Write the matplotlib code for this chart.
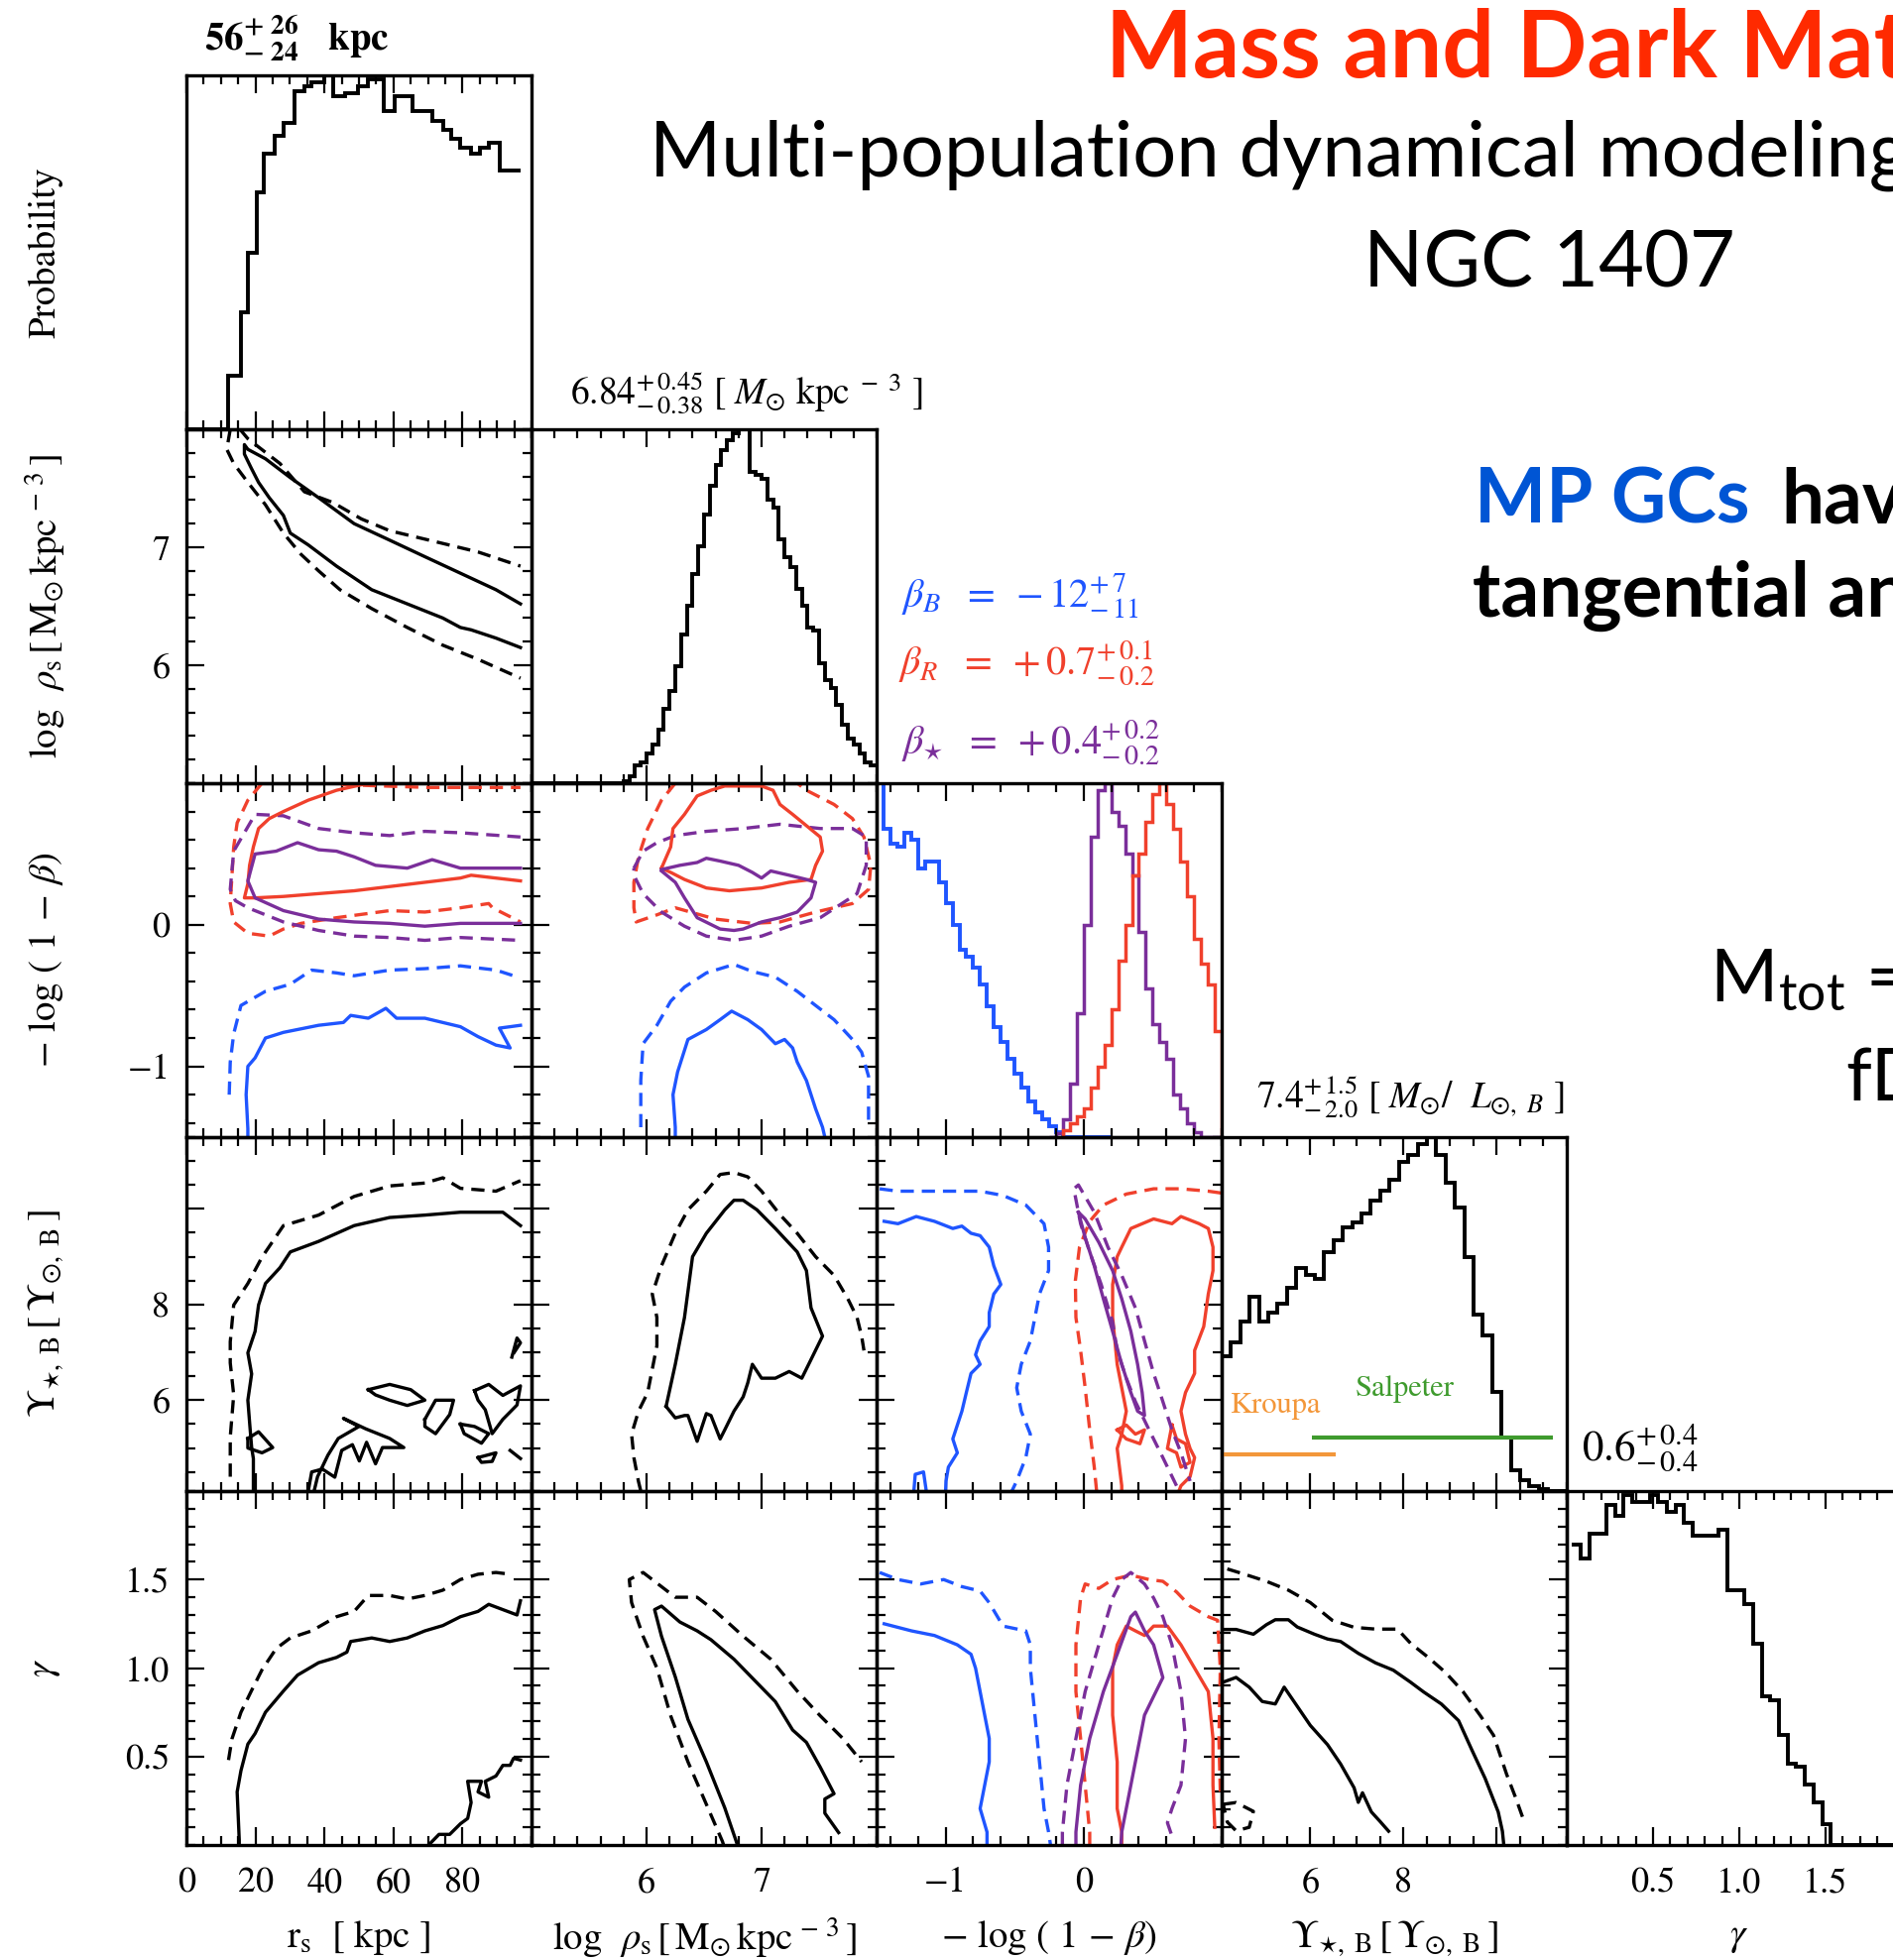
import numpy as np
import matplotlib
matplotlib.use('Agg')
import matplotlib.pyplot as plt
from matplotlib.ticker import MultipleLocator

plt.rcParams['font.family'] = 'STIXGeneral'
plt.rcParams['mathtext.fontset'] = 'stix'

W, H = 1909, 1977          # canvas in pixels
X0, Y0 = 188, 76           # top-left corner of the triangle grid
PW, PH = 348, 357          # one panel

BLUE = '#1f55ff'
RED = '#f0402c'
PURPLE = '#7a2e9a'
DASH = (0, (4, 2.4))
SANS = ['Lato', 'DejaVu Sans']

# parameter axes: limits, labelled ticks, minor step
rs_lim, rs_ticks, rs_tlab, rs_minor = (0, 100), [0, 20, 40, 60, 80], ['0', '20', '40', '60', '80'], 5
rho_lim, rho_ticks, rho_tlab, rho_minor = (5, 8), [6, 7], ['6', '7'], 0.2
beta_lim, beta_ticks, beta_tlab, beta_minor = (-1.5, 1.0), [-1, 0], ['\u22121', '0'], 0.2
ups_lim, ups_ticks, ups_tlab, ups_minor = (4.1, 11.5), [6, 8, 10], ['6', '8', ''], 0.5
gam_lim, gam_ticks, gam_tlab, gam_minor = (0, 2), [0.5, 1.0, 1.5], ['0.5', '1.0', '1.5'], 0.1

# ---------------- marginal posteriors (normalised to peak) ----------------
rs_edges = [0, 12.2, 15.8, 17.8, 20.4, 22.5, 25.5, 28.1, 31.2, 34.2, 36.3, 39.9, 42.4, 46.0,
            49.6, 52.7, 57.3, 60.4, 65.5, 71.2, 74.3, 76.8, 79.4, 82.5, 85.0, 87.6, 90.7, 96.8]
rs_prob = [0, 0.15, 0.33, 0.50, 0.67, 0.78, 0.83, 0.865, 0.955, 0.97, 0.98, 1.0, 0.94, 0.95,
           0.97, 0.99, 0.90, 0.94, 0.90, 0.87, 0.845, 0.82, 0.795, 0.78, 0.795, 0.81, 0.73]

rho_lo, rho_bin = 5.8, 0.05
rho_prob = [0.005, 0.02, 0.05, 0.06, 0.085, 0.11, 0.15, 0.21, 0.26, 0.33, 0.42, 0.50, 0.59, 0.67,
            0.76, 0.84, 0.90, 0.94, 0.97, 0.99, 1.00, 1.00, 0.88, 0.87, 0.86, 0.80, 0.78, 0.69,
            0.64, 0.61, 0.55, 0.50, 0.44, 0.43, 0.34, 0.29, 0.27, 0.22, 0.165, 0.125, 0.11,
            0.085, 0.06, 0.05]

beta_bin = 0.05
betaB_lo = -1.5
betaB_prob = [1.0, 0.87, 0.83, 0.82, 0.86, 0.84, 0.76, 0.78, 0.78, 0.72, 0.66, 0.60, 0.53, 0.51,
              0.48, 0.43, 0.37, 0.31, 0.27, 0.22, 0.18, 0.14, 0.10, 0.07, 0.05, 0.03, 0.015,
              0, 0, 0, 0, 0, 0, 0]
betaS_lo = -0.25
betaS_prob = [0, 0.01, 0.05, 0.15, 0.35, 0.60, 0.85, 0.98, 1.00, 0.92, 0.88, 0.80, 0.74, 0.58,
              0.42, 0.32, 0.27, 0.22, 0.12, 0.08, 0.04, 0.015, 0, 0, 0]
betaR_lo = -0.15
betaR_prob = [0.02, 0.04, 0.06, 0.08, 0.14, 0.20, 0.26, 0.36, 0.50, 0.60, 0.74, 0.80, 0.89, 0.97,
              1.00, 0.94, 0.87, 0.78, 0.68, 0.56, 0.49, 0.43, 0.30]

ups_lo, ups_bin = 4.1, 0.2
ups_prob = [0.38, 0.42, 0.48, 0.55, 0.48, 0.505, 0.53, 0.575, 0.63, 0.61, 0.60, 0.675, 0.71,
            0.745, 0.76, 0.785, 0.82, 0.85, 0.88, 0.93, 0.95, 0.98, 1.00, 0.95, 0.87, 0.80,
            0.66, 0.50, 0.44, 0.28, 0.15, 0.06, 0.03, 0.015, 0.005, 0.0, 0.0]
kroupa_ups, kroupa_level = (4.12, 6.55), 0.104
salpeter_ups, salpeter_level = (6.04, 11.2), 0.151

gam_lo, gam_bin = 0.03, 0.05
gam_prob = [0.85, 0.81, 0.88, 0.88, 0.96, 0.93, 0.99, 0.97, 0.97, 0.99, 0.97, 0.94, 0.96, 0.91,
            0.875, 0.875, 0.875, 0.89, 0.72, 0.72, 0.68, 0.57, 0.42, 0.41, 0.31, 0.23, 0.22,
            0.17, 0.12, 0.06, 0, 0, 0, 0, 0, 0, 0, 0, 0, 0]

# ---------------- 68% (solid) / 95% (dashed) credible contours ----------------
# r_s vs log rho_s
rs_rho_solid = [(96.8, 6.52), (89.7, 6.64), (79.4, 6.78), (69.1, 6.92), (58.9, 7.06), (48.6, 7.20),
                (38.3, 7.42), (30.1, 7.59), (22.9, 7.75), (17.8, 7.83), (16.8, 7.87), (16.8, 7.79),
                (18.8, 7.67), (20.9, 7.55), (24.0, 7.42), (28.1, 7.27), (30.1, 7.12), (35.3, 7.02),
                (43.5, 6.84), (48.6, 6.74), (53.7, 6.64), (64.0, 6.52), (74.3, 6.40), (79.4, 6.32),
                (82.5, 6.30), (89.7, 6.23), (96.8, 6.15)]
rs_rho_dash_hi = [(15.5, 8.0), (17.8, 7.92), (27.1, 7.71), (34.2, 7.47), (42.4, 7.38), (50.7, 7.24),
                  (58.9, 7.14), (73.2, 7.04), (84.5, 6.96), (96.8, 6.84)]
rs_rho_dash_lo = [(12.7, 8.0), (11.7, 7.83), (13.7, 7.71), (17.8, 7.55), (22.9, 7.36), (28.1, 7.12),
                  (33.2, 6.94), (38.3, 6.80), (44.5, 6.64), (53.7, 6.48), (64.0, 6.32), (74.3, 6.17),
                  (84.5, 6.05), (96.8, 5.89)]

# r_s vs -log(1-beta)
rs_beta_red = [(52.7, 1.00), (43.5, 0.95), (35.3, 0.88), (28.1, 0.80), (24.0, 0.75), (20.9, 0.68),
               (19.4, 0.55), (18.3, 0.42), (17.8, 0.29), (16.8, 0.19), (19.9, 0.19), (28.1, 0.20),
               (38.3, 0.22), (48.6, 0.24), (58.9, 0.27), (69.1, 0.30), (79.4, 0.33), (82.5, 0.35),
               (96.8, 0.31)]
rs_beta_red_dash = [(21.9, 1.0), (17.8, 0.88), (14.7, 0.72), (13.7, 0.55), (13.2, 0.35), (12.7, 0.15),
                    (13.7, 0.02), (17.8, -0.06), (24.0, -0.08), (28.1, -0.03), (33.2, 0.01),
                    (43.5, 0.05), (58.9, 0.10), (69.1, 0.09), (79.4, 0.12), (87.6, 0.15),
                    (88.7, 0.12), (96.8, 0.02)]
rs_beta_red_dash_top = [(45.0, 0.99), (70.0, 0.97), (96.8, 0.97)]
rs_beta_purple = [(96.8, 0.40), (79.4, 0.40), (71.2, 0.46), (64.0, 0.40), (54.8, 0.42), (48.6, 0.48),
                  (43.5, 0.52), (38.3, 0.53), (32.2, 0.58), (26.0, 0.52), (19.9, 0.50), (17.8, 0.31),
                  (19.9, 0.19), (28.1, 0.10), (38.3, 0.04), (48.6, 0.02), (58.9, 0.01), (69.1, -0.01),
                  (79.4, 0.01), (96.8, 0.01)]
rs_beta_purple_dash = [(96.8, 0.62), (79.4, 0.65), (69.1, 0.66), (58.9, 0.63), (48.6, 0.65), (38.3, 0.68),
                       (28.1, 0.77), (19.9, 0.78), (13.7, 0.52), (12.7, 0.25), (14.2, 0.17), (17.8, 0.12),
                       (28.1, 0.02), (38.3, -0.04), (48.6, -0.08), (58.9, -0.09), (69.1, -0.11),
                       (79.4, -0.09), (96.8, -0.11)]
rs_beta_blue = [(17.8, -1.5), (17.8, -1.44), (17.3, -1.20), (17.8, -1.0), (19.9, -0.94), (22.9, -0.80),
                (28.1, -0.76), (38.3, -0.71), (45.5, -0.69), (47.6, -0.64), (52.7, -0.66), (57.8, -0.59),
                (60.9, -0.66), (69.1, -0.66), (79.4, -0.72), (84.5, -0.79), (89.7, -0.85), (93.8, -0.87),
                (90.7, -0.73), (93.8, -0.72), (96.8, -0.71)]
rs_beta_blue_dash = [(12.4, -1.2), (12.7, -0.97), (13.7, -0.77), (15.8, -0.57), (22.9, -0.47), (30.1, -0.42),
                     (36.3, -0.32), (43.5, -0.34), (48.6, -0.36), (58.9, -0.32), (69.1, -0.31),
                     (79.4, -0.29), (89.7, -0.32), (94.8, -0.36)]

# r_s vs Upsilon
rs_ups_solid = [(19.4, 4.1), (19.4, 4.78), (18.9, 5.01), (18.4, 5.45), (17.8, 6.00), (18.9, 6.55),
                (17.8, 6.99), (19.9, 7.44), (20.9, 7.99), (22.9, 8.44), (27.1, 8.77), (30.1, 9.10),
                (38.3, 9.32), (48.6, 9.65), (58.9, 9.82), (69.1, 9.87), (79.4, 9.93), (91.7, 9.93),
                (96.8, 9.65)]
rs_ups_dash = [(12.7, 4.4), (12.7, 5.23), (13.7, 6.11), (12.7, 6.78), (12.7, 7.22), (13.7, 7.99),
               (17.8, 8.44), (21.9, 8.99), (28.1, 9.65), (38.3, 9.87), (48.6, 10.26), (58.9, 10.48),
               (69.1, 10.54), (74.3, 10.65), (79.4, 10.43), (89.7, 10.37), (96.8, 10.59)]
rs_ups_islands = [
    [(17.8, 5.2), (20.9, 5.34), (25.0, 5.01), (21.9, 4.9), (17.8, 5.0), (17.8, 5.2)],
    [(35.3, 4.1), (36.3, 4.5), (39.4, 4.56), (43.0, 4.39), (45.0, 4.95), (48.1, 5.07), (50.1, 4.73),
     (52.2, 5.12), (54.8, 4.67), (56.8, 5.01), (63.0, 5.01), (58.9, 5.20), (52.0, 5.40), (45.5, 5.62),
     (50.0, 5.45), (44.0, 5.20), (41.0, 4.85), (38.0, 4.4), (37.0, 4.1)],
    [(52.7, 6.22), (58.9, 6.33), (65.0, 6.22), (69.1, 6.0), (64.0, 5.89), (58.9, 6.0), (54.8, 6.11), (52.7, 6.22)],
    [(69.1, 5.6), (72.2, 6.0), (77.4, 6.0), (76.3, 5.7), (72.2, 5.3), (69.1, 5.45), (69.1, 5.6)],
    [(79.4, 5.5), (83.5, 5.45), (87.6, 5.3), (85.5, 5.1), (80.5, 5.3), (79.4, 5.5)],
    [(83.5, 6.2), (87.6, 6.33), (91.7, 6.1), (96.8, 6.3), (95.8, 5.9), (91.7, 5.6), (88.6, 5.3),
     (86.6, 5.8), (84.5, 6.0), (83.5, 6.2)],
    [(84.5, 4.8), (89.7, 4.9), (88.6, 4.72), (85.5, 4.7), (84.5, 4.8)],
    [(94.3, 6.9), (95.8, 7.3), (96.8, 7.2), (95.0, 7.0)],
    [(93.8, 4.95), (96.8, 4.78)],
]

# r_s vs gamma
rs_gam_solid = [(15.3, 0.0), (15.3, 0.03), (14.7, 0.30), (15.8, 0.42), (17.8, 0.57), (19.9, 0.63),
                (22.9, 0.75), (28.1, 0.87), (32.2, 0.96), (38.3, 1.03), (43.5, 1.06), (46.5, 1.09),
                (47.6, 1.15), (53.7, 1.17), (58.9, 1.15), (64.0, 1.17), (69.1, 1.21), (74.3, 1.24),
                (79.4, 1.29), (84.5, 1.32), (87.6, 1.36), (91.7, 1.33), (95.8, 1.30), (96.8, 1.38)]
rs_gam_dash = [(12.2, 0.48), (13.2, 0.60), (15.8, 0.75), (18.8, 0.87), (21.9, 0.99), (26.0, 1.11),
               (30.1, 1.17), (36.3, 1.21), (43.5, 1.29), (48.6, 1.32), (52.7, 1.41), (58.9, 1.41),
               (64.0, 1.39), (69.1, 1.41), (74.3, 1.44), (79.4, 1.50), (84.5, 1.53), (89.7, 1.54),
               (93.8, 1.53)]
rs_gam_island = [(70.2, 0.0), (73.2, 0.06), (76.3, 0.06), (79.4, 0.12), (81.5, 0.15), (82.5, 0.24),
                 (81.5, 0.36), (85.5, 0.36), (84.5, 0.30), (87.6, 0.27), (86.6, 0.36), (89.7, 0.39),
                 (91.7, 0.45), (93.8, 0.45), (94.8, 0.49), (96.8, 0.48)]

# log rho_s vs -log(1-beta)
rho_beta_red = [(6.13, 0.40), (6.21, 0.55), (6.23, 0.68), (6.33, 0.78), (6.44, 0.91), (6.56, 0.95),
                (6.68, 0.98), (7.00, 0.98), (7.10, 0.95), (7.16, 0.85), (7.27, 0.78), (7.39, 0.70),
                (7.51, 0.62), (7.53, 0.52), (7.47, 0.42), (7.43, 0.32), (7.24, 0.30), (7.00, 0.26),
                (6.72, 0.24), (6.52, 0.26), (6.33, 0.32), (6.21, 0.37), (6.13, 0.40)]
rho_beta_red_dash = [(6.25, 1.0), (6.13, 0.88), (6.01, 0.68), (5.93, 0.48), (5.89, 0.30), (5.89, 0.12),
                     (5.91, 0.02), (6.09, 0.07), (6.25, 0.12), (6.60, 0.04), (6.92, 0.01), (7.16, 0.02),
                     (7.47, 0.09), (7.79, 0.15), (7.93, 0.25), (7.95, 0.42), (7.89, 0.62), (7.79, 0.75),
                     (7.63, 0.85), (7.39, 0.95), (7.31, 1.0)]
rho_beta_purple = [(6.13, 0.39), (6.29, 0.42), (6.44, 0.44), (6.52, 0.47), (6.64, 0.45), (6.80, 0.42),
                   (6.92, 0.37), (7.00, 0.33), (7.08, 0.38), (7.24, 0.35), (7.39, 0.32), (7.47, 0.30),
                   (7.43, 0.19), (7.31, 0.09), (7.16, 0.05), (7.00, 0.02), (6.84, -0.03), (6.76, -0.04),
                   (6.64, -0.03), (6.44, 0.05), (6.33, 0.19), (6.25, 0.30), (6.13, 0.38)]
rho_beta_purple_dash = [(5.89, 0.40), (5.97, 0.52), (6.09, 0.58), (6.25, 0.63), (6.52, 0.66), (6.84, 0.68),
                        (7.16, 0.71), (7.51, 0.68), (7.79, 0.68), (7.91, 0.62), (7.91, 0.42), (7.83, 0.22),
                        (7.51, 0.05), (7.24, -0.01), (7.00, -0.08), (6.76, -0.11), (6.52, -0.08),
                        (6.33, -0.01), (6.13, 0.09), (5.97, 0.22), (5.89, 0.35), (5.89, 0.40)]
rho_beta_blue = [(6.25, -1.5), (6.25, -1.43), (6.23, -1.20), (6.27, -1.04), (6.36, -0.81), (6.52, -0.74),
                 (6.64, -0.67), (6.74, -0.61), (6.88, -0.67), (7.00, -0.74), (7.12, -0.84), (7.20, -0.81),
                 (7.27, -0.87), (7.31, -0.97), (7.39, -1.10), (7.47, -1.30), (7.53, -1.43), (7.55, -1.5)]
rho_beta_blue_dash = [(5.95, -1.43), (5.95, -1.10), (5.97, -0.84), (6.09, -0.71), (6.21, -0.54),
                      (6.33, -0.44), (6.52, -0.34), (6.76, -0.28), (6.92, -0.33), (7.12, -0.37),
                      (7.31, -0.47), (7.47, -0.57), (7.63, -0.67), (7.79, -0.81), (7.87, -0.90),
                      (7.93, -1.07), (7.93, -1.43)]

# log rho_s vs Upsilon
rho_ups_solid = [(6.17, 5.87), (6.25, 6.75), (6.33, 7.73), (6.40, 9.00), (6.52, 9.49), (6.68, 9.98),
                 (6.76, 10.18), (6.84, 10.18), (6.96, 9.98), (7.12, 9.59), (7.31, 9.10), (7.39, 8.71),
                 (7.43, 7.93), (7.53, 7.34), (7.43, 6.85), (7.35, 6.46), (7.24, 6.60), (7.12, 6.46),
                 (7.00, 6.46), (6.92, 6.75), (6.88, 6.36), (6.84, 6.07), (6.76, 5.77), (6.68, 5.38),
                 (6.64, 5.19), (6.56, 5.68), (6.52, 5.72), (6.44, 5.14), (6.36, 5.68), (6.33, 5.68),
                 (6.25, 5.63), (6.17, 5.87)]
rho_ups_dash = [(5.95, 4.1), (5.93, 4.30), (5.89, 4.80), (5.87, 5.29), (5.93, 5.77), (6.01, 6.16),
                (6.09, 7.14), (6.09, 7.73), (6.05, 8.22), (6.13, 8.81), (6.25, 9.49), (6.36, 9.98),
                (6.52, 10.37), (6.64, 10.72), (6.76, 10.76), (6.88, 10.67), (7.00, 10.37), (7.16, 9.88),
                (7.31, 9.49), (7.47, 9.00), (7.63, 8.61), (7.75, 8.12), (7.83, 7.73), (7.87, 7.34),
                (7.89, 7.04)]

# log rho_s vs gamma
rho_gam_solid = [(6.79, 0.0), (6.78, 0.02), (6.68, 0.21), (6.52, 0.47), (6.36, 0.71), (6.25, 0.95),
                 (6.13, 1.18), (6.07, 1.33), (6.13, 1.35), (6.29, 1.26), (6.44, 1.21), (6.56, 1.16),
                 (6.76, 1.05), (7.00, 0.89), (7.12, 0.81), (7.27, 0.65), (7.39, 0.58), (7.51, 0.44),
                 (7.59, 0.34), (7.63, 0.29), (7.55, 0.26), (7.55, 0.18), (7.67, 0.07)]
rho_gam_dash = [(6.67, 0.0), (6.66, 0.02), (6.52, 0.23), (6.36, 0.47), (6.21, 0.73), (6.09, 1.0),
                (5.97, 1.18), (5.87, 1.37), (5.85, 1.50), (5.97, 1.54), (6.13, 1.46), (6.25, 1.40),
                (6.44, 1.40), (6.60, 1.32), (6.84, 1.18), (7.08, 1.05), (7.31, 0.87), (7.51, 0.73),
                (7.71, 0.60), (7.87, 0.47)]

# -log(1-beta) vs Upsilon
beta_ups_blue = [(-1.445, 9.74), (-1.345, 9.69), (-1.213, 9.84), (-1.081, 9.74), (-0.948, 9.59),
                 (-0.882, 9.64), (-0.816, 9.49), (-0.75, 9.44), (-0.684, 9.2), (-0.651, 8.81),
                 (-0.60, 8.42), (-0.651, 8.22), (-0.684, 7.83), (-0.684, 7.54), (-0.75, 7.24),
                 (-0.783, 6.95), (-0.75, 6.75), (-0.816, 6.56), (-0.849, 6.17), (-0.882, 5.77),
                 (-0.915, 5.48), (-0.948, 5.19), (-0.915, 4.90), (-0.98, 4.60), (-0.997, 4.31), (-1.0, 4.1)]
beta_ups_blue_stub = [(-1.23, 4.1), (-1.22, 4.45), (-1.16, 4.50), (-1.14, 4.1)]
beta_ups_blue_dash = [(-1.478, 10.42), (-1.345, 10.37), (-1.081, 10.37), (-0.75, 10.37), (-0.584, 10.28),
                      (-0.419, 10.08), (-0.287, 9.69), (-0.254, 9.20), (-0.254, 8.71), (-0.32, 8.22),
                      (-0.353, 7.73), (-0.386, 7.24), (-0.452, 6.75), (-0.485, 6.26), (-0.452, 5.77),
                      (-0.386, 5.29), (-0.419, 4.80), (-0.485, 4.31), (-0.52, 4.1)]
beta_ups_purple = [(-0.038, 9.93), (0.011, 9.79), (0.11, 9.30), (0.21, 8.71), (0.276, 8.12), (0.342, 7.44),
                   (0.391, 6.75), (0.424, 6.16), (0.441, 5.68), (0.391, 5.77), (0.342, 6.16), (0.276, 6.75),
                   (0.21, 7.44), (0.143, 8.12), (0.077, 8.81), (0.011, 9.40), (-0.038, 9.93)]
beta_ups_purple_dash = [(0.673, 4.21), (0.574, 4.80), (0.474, 5.38), (0.375, 5.97), (0.309, 6.46),
                        (0.243, 7.04), (0.21, 7.63), (0.127, 8.42), (0.044, 9.10), (-0.022, 9.69),
                        (-0.071, 10.42), (-0.038, 10.5), (0.077, 9.93), (0.176, 9.20), (0.276, 8.61),
                        (0.375, 7.93), (0.441, 7.24), (0.507, 6.56), (0.574, 5.97), (0.64, 5.38),
                        (0.705, 4.90), (0.771, 4.31)]
beta_ups_red = [(0.276, 4.1), (0.276, 4.21), (0.243, 4.99), (0.276, 5.29), (0.309, 5.77), (0.243, 6.75),
                (0.21, 7.73), (0.21, 8.42), (0.243, 9.00), (0.276, 9.20), (0.342, 9.59), (0.507, 9.79),
                (0.64, 9.69), (0.705, 9.84), (0.837, 9.69), (0.903, 9.59), (0.937, 9.20), (0.937, 8.71),
                (0.903, 8.22), (0.87, 7.54), (0.804, 7.04), (0.804, 6.56), (0.738, 6.16), (0.705, 5.77),
                (0.738, 5.29), (0.771, 4.99), (0.804, 4.80), (0.771, 4.40), (0.705, 4.21), (0.69, 4.1)]
beta_ups_red_loops = [
    [(0.243, 5.38), (0.309, 5.48), (0.375, 5.29), (0.441, 5.38), (0.408, 5.09), (0.309, 5.19), (0.243, 5.38)],
    [(0.64, 5.48), (0.673, 5.19), (0.738, 5.09), (0.771, 4.70), (0.705, 4.60), (0.673, 4.90), (0.607, 4.99), (0.64, 5.48)],
]
beta_ups_red_dash = [(0.094, 4.1), (0.077, 4.60), (0.044, 5.38), (0.011, 6.26), (-0.022, 7.04),
                     (-0.056, 7.73), (-0.06, 8.5), (-0.03, 9.2), (0.044, 9.74), (0.143, 10.08),
                     (0.309, 10.31), (0.507, 10.42), (0.705, 10.42), (0.903, 10.37), (1.0, 10.33)]

# -log(1-beta) vs gamma
beta_gam_blue = [(-1.445, 1.25), (-1.247, 1.21), (-1.081, 1.184), (-0.915, 1.131), (-0.816, 1.078),
                 (-0.783, 0.999), (-0.75, 0.867), (-0.717, 0.734), (-0.684, 0.602), (-0.684, 0.47),
                 (-0.717, 0.338), (-0.75, 0.206), (-0.70, 0.073), (-0.70, 0.0)]
beta_gam_blue_dash = [(-1.478, 1.54), (-1.345, 1.50), (-1.18, 1.475), (-1.014, 1.50), (-0.882, 1.46),
                      (-0.75, 1.435), (-0.684, 1.369), (-0.584, 1.237), (-0.419, 1.21), (-0.386, 1.131),
                      (-0.386, 0.999), (-0.353, 0.734), (-0.32, 0.47), (-0.287, 0.206), (-0.254, 0.073),
                      (-0.24, 0.0)]
beta_gam_purple = [(-0.056, 0.0), (-0.056, 0.073), (-0.022, 0.338), (0.044, 0.602), (0.143, 0.867),
                   (0.243, 1.078), (0.342, 1.29), (0.375, 1.316), (0.441, 1.21), (0.507, 1.131),
                   (0.574, 0.946), (0.507, 0.84), (0.441, 0.734), (0.408, 0.602), (0.342, 0.338),
                   (0.309, 0.206), (0.276, 0.073), (0.27, 0.0)]
beta_gam_purple_dash = [(-0.154, 0.0), (-0.154, 0.073), (-0.121, 0.338), (-0.056, 0.602), (0.011, 0.867),
                        (0.11, 1.131), (0.21, 1.396), (0.276, 1.50), (0.342, 1.54), (0.441, 1.475),
                        (0.507, 1.396), (0.574, 1.29), (0.64, 1.131), (0.705, 0.867), (0.738, 0.602),
                        (0.705, 0.338), (0.64, 0.206), (0.607, 0.126), (0.64, 0.05)]
beta_gam_red = [(0.276, 0.0), (0.276, 0.073), (0.243, 0.206), (0.243, 0.47), (0.21, 0.734), (0.21, 0.999),
                (0.243, 1.131), (0.309, 1.237), (0.375, 1.21), (0.441, 1.184), (0.507, 1.237),
                (0.607, 1.237), (0.705, 1.131), (0.804, 0.999), (0.903, 0.867), (0.937, 0.602),
                (0.937, 0.338), (0.95, 0.1)]
beta_gam_red_dash = [(0.044, 0.0), (0.044, 0.073), (0.011, 0.338), (-0.022, 0.602), (-0.056, 0.867),
                     (-0.056, 1.131), (-0.022, 1.396), (0.011, 1.475), (0.11, 1.45), (0.21, 1.50),
                     (0.342, 1.525), (0.474, 1.50), (0.574, 1.49), (0.673, 1.43), (0.771, 1.35),
                     (0.903, 1.29), (0.97, 1.27), (0.99, 1.0), (0.98, 0.6), (0.99, 0.3)]

# Upsilon vs gamma
ups_gam_solid_hi = [(4.13, 1.218), (4.41, 1.218), (4.78, 1.191), (5.06, 1.245), (5.25, 1.273), (5.53, 1.273),
                    (5.72, 1.232), (6.09, 1.191), (6.37, 1.164), (6.65, 1.15), (7.03, 1.083), (7.40, 1.029),
                    (7.78, 0.988), (8.15, 0.92), (8.43, 0.865), (8.81, 0.797), (9.18, 0.703), (9.46, 0.54),
                    (9.75, 0.376), (10.03, 0.187), (10.12, 0.078), (10.15, 0.0)]
ups_gam_solid_lo = [(4.13, 0.92), (4.41, 0.947), (4.69, 0.892), (4.97, 0.811), (5.25, 0.797), (5.44, 0.892),
                    (5.72, 0.784), (6.00, 0.676), (6.37, 0.567), (6.65, 0.458), (6.94, 0.323), (7.03, 0.241),
                    (7.12, 0.295), (7.31, 0.187), (7.50, 0.132), (7.68, 0.078)]
ups_gam_dash = [(4.22, 1.56), (4.59, 1.53), (5.06, 1.49), (5.53, 1.44), (6.00, 1.37), (6.47, 1.27),
                (6.94, 1.23), (7.40, 1.22), (7.87, 1.22), (8.15, 1.14), (8.53, 1.06), (8.90, 0.975),
                (9.28, 0.865), (9.65, 0.73), (9.93, 0.62), (10.21, 0.40), (10.40, 0.27), (10.59, 0.13)]
ups_gam_dash_loop = [(4.13, 0.23), (4.41, 0.24), (4.78, 0.19), (4.69, 0.10), (4.41, 0.08), (4.22, 0.13), (4.13, 0.23)]


def px(x):
    return x / W


def py(y):
    return 1 - y / H


def trace(ax, pts, color='k', dashed=False, lw=2.4):
    xs, ys = zip(*pts)
    ax.plot(xs, ys, color=color, lw=lw, ls=DASH if dashed else '-',
            solid_joinstyle='round', dash_capstyle='butt')


fig = plt.figure(figsize=(W / 100, H / 100), dpi=100)

axis_info = [
    (rs_lim, rs_ticks, rs_tlab, rs_minor),
    (rho_lim, rho_ticks, rho_tlab, rho_minor),
    (beta_lim, beta_ticks, beta_tlab, beta_minor),
    (ups_lim, ups_ticks, ups_tlab, ups_minor),
    (gam_lim, gam_ticks, gam_tlab, gam_minor),
]

axes = {}
for r in range(5):
    for c in range(r + 1):
        ax = fig.add_axes([px(X0 + c * PW), py(Y0 + (r + 1) * PH), PW / W, PH / H])
        ax.set_facecolor('none')
        lim, ticks, tlab, minor = axis_info[c]
        ax.set_xlim(lim)
        ax.set_xticks(ticks, tlab)
        ax.xaxis.set_minor_locator(MultipleLocator(minor))
        diag = (r == c)
        if diag:
            ax.set_ylim(0, 1)
            ax.set_yticks([])
        else:
            lim, ticks, tlab, minor = axis_info[r]
            ax.set_ylim(lim)
            ax.set_yticks(ticks, tlab)
            ax.yaxis.set_minor_locator(MultipleLocator(minor))
        ax.tick_params(which='both', direction='in', top=True, bottom=True,
                       left=not diag, right=not diag, width=1.6,
                       labelbottom=(r == 4), labelleft=(c == 0 and not diag), labelsize=26)
        ax.tick_params(which='major', length=13)
        ax.tick_params(which='minor', length=6.5)
        ax.tick_params(axis='x', pad=16)
        ax.tick_params(axis='y', pad=12)
        for s in ax.spines.values():
            s.set_linewidth(2.4)
        axes[r, c] = ax

# diagonal: marginal distributions
ax = axes[0, 0]
ax.stairs(rs_prob, rs_edges, baseline=None, color='k', lw=2.8)

ax = axes[1, 1]
edges = rho_lo + rho_bin * np.arange(len(rho_prob) + 1)
ax.stairs([0] + rho_prob, np.concatenate([[rho_lim[0]], edges]), baseline=None, color='k', lw=2.8)

ax = axes[2, 2]
ax.stairs(betaB_prob, betaB_lo + beta_bin * np.arange(len(betaB_prob) + 1), baseline=None, color=BLUE, lw=2.8)
ax.stairs(betaS_prob, betaS_lo + beta_bin * np.arange(len(betaS_prob) + 1), baseline=None, color=PURPLE, lw=2.5)
ax.stairs(betaR_prob, betaR_lo + beta_bin * np.arange(len(betaR_prob) + 1), baseline=0, color=RED, lw=2.5)

ax = axes[3, 3]
ax.stairs(ups_prob, ups_lo + ups_bin * np.arange(len(ups_prob) + 1), baseline=None, color='k', lw=2.8)
ax.hlines(kroupa_level, *kroupa_ups, color='#f3973a', lw=3)
ax.hlines(salpeter_level, *salpeter_ups, color='#3f9b2e', lw=3)

ax = axes[4, 4]
ax.stairs(gam_prob, gam_lo + gam_bin * np.arange(len(gam_prob) + 1), baseline=None, color='k', lw=2.8)

# off-diagonal: credible regions
ax = axes[1, 0]
trace(ax, rs_rho_solid)
trace(ax, rs_rho_dash_hi, dashed=True)
trace(ax, rs_rho_dash_lo, dashed=True)

ax = axes[2, 0]
trace(ax, rs_beta_red_dash, RED, True)
trace(ax, rs_beta_red_dash_top, RED, True)
trace(ax, rs_beta_purple_dash, PURPLE, True)
trace(ax, rs_beta_red, RED)
trace(ax, rs_beta_purple, PURPLE)
trace(ax, rs_beta_blue_dash, BLUE, True)
trace(ax, rs_beta_blue, BLUE)

ax = axes[3, 0]
trace(ax, rs_ups_solid)
trace(ax, rs_ups_dash, dashed=True)
for isl in rs_ups_islands:
    trace(ax, isl)

ax = axes[4, 0]
trace(ax, rs_gam_solid)
trace(ax, rs_gam_dash, dashed=True)
trace(ax, rs_gam_island)

ax = axes[2, 1]
trace(ax, rho_beta_red_dash, RED, True)
trace(ax, rho_beta_purple_dash, PURPLE, True)
trace(ax, rho_beta_red, RED)
trace(ax, rho_beta_purple, PURPLE)
trace(ax, rho_beta_blue_dash, BLUE, True)
trace(ax, rho_beta_blue, BLUE)

ax = axes[3, 1]
trace(ax, rho_ups_solid)
trace(ax, rho_ups_dash, dashed=True)

ax = axes[4, 1]
trace(ax, rho_gam_solid)
trace(ax, rho_gam_dash, dashed=True)

ax = axes[3, 2]
trace(ax, beta_ups_blue, BLUE)
trace(ax, beta_ups_blue_stub, BLUE)
trace(ax, beta_ups_blue_dash, BLUE, True)
trace(ax, beta_ups_red_dash, RED, True)
trace(ax, beta_ups_red, RED)
for loop in beta_ups_red_loops:
    trace(ax, loop, RED)
trace(ax, beta_ups_purple_dash, PURPLE, True)
trace(ax, beta_ups_purple, PURPLE)

ax = axes[4, 2]
trace(ax, beta_gam_blue, BLUE)
trace(ax, beta_gam_blue_dash, BLUE, True)
trace(ax, beta_gam_red_dash, RED, True)
trace(ax, beta_gam_red, RED)
trace(ax, beta_gam_purple_dash, PURPLE, True)
trace(ax, beta_gam_purple, PURPLE)

ax = axes[4, 3]
trace(ax, ups_gam_solid_hi)
trace(ax, ups_gam_solid_lo)
trace(ax, ups_gam_dash, dashed=True)
trace(ax, ups_gam_dash_loop, dashed=True)

# axis labels
ylabels = ['Probability',
           r'log  $\rho_{\rm s}\,[\,\mathrm{M}_{\odot}\,\mathrm{kpc}^{\,-\,3}\,]$',
           r'$-$ log ( 1$\,-\,\beta$)',
           r'$\Upsilon_{\star,\ \mathrm{B}}\,[\,\Upsilon_{\odot,\ \mathrm{B}}\,]$',
           r'$\gamma$']
xlabels = [r'r$_{\rm s}$  [ kpc ]',
           r'log  $\rho_{\rm s}\,[\,\mathrm{M}_{\odot}\,\mathrm{kpc}^{\,-\,3}\,]$',
           r'$-$ log ( 1$\,-\,\beta$)',
           r'$\Upsilon_{\star,\ \mathrm{B}}\,[\,\Upsilon_{\odot,\ \mathrm{B}}\,]$',
           r'$\gamma$']
for i in range(5):
    fig.text(px(46), py(Y0 + (i + 0.5) * PH), ylabels[i], rotation=90, ha='center', va='center', fontsize=28)
    fig.text(px(X0 + (i + 0.5) * PW), py(1955), xlabels[i], ha='center', va='center', fontsize=28)

# best-fit values above the marginals
fig.text(px(206), py(52), r'$\mathbf{56}^{\mathbf{+\ 26}}_{\mathbf{-\ 24}}$   kpc', fontsize=28,
         weight='bold', va='baseline')
fig.text(px(575), py(408), r'$6.84^{+\,0.45}_{-\,0.38}\ [\ M_{\odot}\ \mathrm{kpc}^{\ -\ 3}\ ]$',
         fontsize=27, va='baseline')
fig.text(px(1267), py(1118), r'$7.4^{+\,1.5}_{-\,2.0}\ [\ M_{\odot}/\ \ L_{\odot,\ B}\ ]$',
         fontsize=27, va='baseline')
fig.text(px(1595), py(1474), r'$0.6^{+\,0.4}_{-\,0.4}$', fontsize=31, va='baseline')

fig.text(px(909), py(613), r'$\beta_B\ \ =\ -12^{+\,7}_{-\,11}$', color=BLUE, fontsize=29, va='baseline')
fig.text(px(906), py(680), r'$\beta_R\ \ =\ +0.7^{+\,0.1}_{-\,0.2}$', color=RED, fontsize=29, va='baseline')
fig.text(px(909), py(760), r'$\beta_{\star}\ \ =\ +0.4^{+\,0.2}_{-\,0.2}$', color=PURPLE, fontsize=29, va='baseline')

fig.text(px(1240), py(1425), 'Kroupa', color='#f3973a', fontsize=22, va='baseline')
fig.text(px(1367), py(1408), 'Salpeter', color='#3f9b2e', fontsize=22, va='baseline')

# slide text
fig.text(px(1115), py(78), 'Mass and Dark Matter', family=SANS, weight='bold', color='#ff2a00',
         fontsize=67, va='baseline')
fig.text(px(655), py(178), 'Multi-population dynamical modeling', family=SANS, fontsize=56, va='baseline')
fig.text(px(1562), py(290), 'NGC 1407', family=SANS, fontsize=57, ha='center', va='baseline')
fig.text(px(1487), py(527), 'MP GCs', family=SANS, weight='bold', color='#0055d4', fontsize=55, va='baseline')
fig.text(px(1796), py(527), 'have', family=SANS, weight='bold', fontsize=55, va='baseline')
fig.text(px(1485), py(622), 'tangential anisotropy', family=SANS, weight='bold', fontsize=55, va='baseline')
fig.text(px(1724), py(1010), r'M$_{\mathregular{tot}}$ =', family=SANS, fontsize=53, va='baseline')
fig.text(px(1861), py(1110), 'fDM', family=SANS, fontsize=53, va='baseline')

fig.savefig('out.png', dpi=100)
